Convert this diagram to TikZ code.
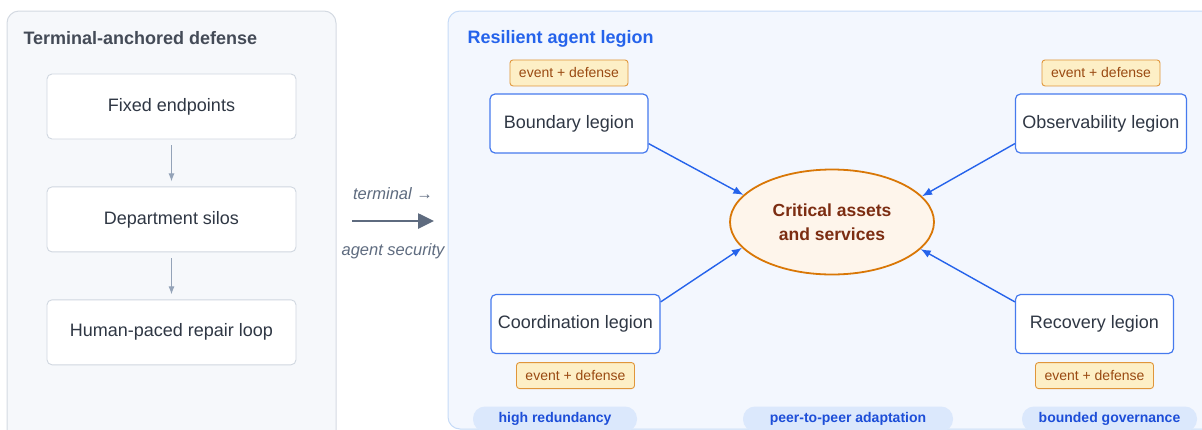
\documentclass[tikz,border=0pt]{standalone}
\usepackage{fontspec}
\setmainfont{Liberation Sans}
\usepackage{xcolor}
\usetikzlibrary{shapes.geometric,arrows.meta,positioning}

\definecolor{leftfill}{HTML}{F6F8FB}
\definecolor{leftline}{HTML}{D4DAE2}
\definecolor{stepline}{HTML}{D0D7E0}
\definecolor{inktext}{HTML}{2F3744}
\definecolor{greyarrow}{HTML}{94A3B8}
\definecolor{rightfill}{HTML}{F3F7FE}
\definecolor{rightline}{HTML}{C6DBF7}
\definecolor{legionblue}{HTML}{2563EB}
\definecolor{tagfill}{HTML}{FDEFC6}
\definecolor{tagline}{HTML}{E0963A}
\definecolor{tagtext}{HTML}{9A4A12}
\definecolor{corefill}{HTML}{FEF5EB}
\definecolor{coreline}{HTML}{D97706}
\definecolor{coretext}{HTML}{7C2D12}
\definecolor{pillfill}{HTML}{DBE8FC}
\definecolor{pilltext}{HTML}{1D4ED8}
\definecolor{shiftgrey}{HTML}{5E6B7F}

\begin{document}
\begin{tikzpicture}[
    x=1pt, y=-1pt,
    node distance=47pt,
    panel/.style={rounded corners=12pt, line width=1pt},
    stepbox/.style={draw=stepline, fill=white, rectangle, rounded corners=5pt, line width=0.9pt,
        minimum width=249pt, minimum height=65pt, text=inktext, font=\fontsize{18}{21}\selectfont},
    legion/.style={draw=legionblue!85, fill=white, rectangle, rounded corners=5pt, line width=1.2pt,
        minimum width=158pt, minimum height=59pt, inner xsep=7pt, text=inktext, font=\fontsize{18}{21}\selectfont},
    tag/.style={draw=tagline, fill=tagfill, rectangle, rounded corners=3pt, line width=0.9pt,
        minimum height=26pt, inner xsep=9pt, text=tagtext, font=\fontsize{14}{16}\selectfont},
    pill/.style={fill=pillfill, rectangle, rounded corners=12pt, minimum height=25pt,
        text=pilltext, font=\bfseries\fontsize{14}{16}\selectfont},
    flow/.style={-{Latex[length=8pt,width=6pt]}, line width=1pt, greyarrow, shorten <=6pt, shorten >=5pt},
    feed/.style={-{Latex[length=10pt,width=8pt]}, line width=1.4pt, legionblue}
]
    \useasboundingbox (0,0) rectangle (1202,429);
    \clip (0,0) rectangle (1202,429);

    % panels
    \draw[panel, fill=leftfill, draw=leftline] (7,11) rectangle (336,460);
    \draw[panel, fill=rightfill, draw=rightline] (448,11) rectangle (1240,429);

    \node[anchor=west, text=inktext!90, font=\bfseries\fontsize{18}{21}\selectfont] (lefttitle) at (20,38) {Terminal-anchored defense};
    \node[anchor=west, text=legionblue, font=\bfseries\fontsize{18}{21}\selectfont] (righttitle) at (464,39) {Resilient agent legion};

    % terminal column
    \node[stepbox] (fixed) at (171.5,106.5) {Fixed endpoints};
    \node[stepbox, below=of fixed] (silos) {Department silos};
    \node[stepbox, below=of silos] (repair) {Human-paced repair loop};

    \draw[flow] (fixed) -- (silos);
    \draw[flow] (silos) -- (repair);

    % shift
    \coordinate (shiftL) at (352,221);
    \coordinate (shiftR) at (434,221);
    \draw[-{Triangle[length=16pt,width=15pt]}, line width=2.6pt, shiftgrey] (shiftL) --
        node[above=17pt, text=shiftgrey, font=\itshape\fontsize{16.5}{19}\selectfont] (shifttop) {terminal →}
        node[below=18pt, text=shiftgrey, font=\itshape\fontsize{16.5}{19}\selectfont] (shiftbot) {agent security} (shiftR);

    % legion
    \node[ellipse, draw=coreline, fill=corefill, line width=1.8pt, minimum width=204pt, minimum height=105pt,
        inner sep=0pt, align=center, text=coretext, font=\bfseries\fontsize{17.5}{24}\selectfont] (core) at (832,222)
        {Critical assets\\and services};

    \node[legion] (boundary) at (569,123.5) {Boundary legion};
    \node[legion] (observe) at (1101,123.5) {Observability legion};
    \node[legion] (coord) at (575.5,324) {Coordination legion};
    \node[legion] (recover) at (1094.5,324) {Recovery legion};

    \node[tag, above=7pt of boundary] (tagB) {event + defense};
    \node[tag, above=7pt of observe] (tagO) {event + defense};
    \node[tag, below=8pt of coord] (tagC) {event + defense};
    \node[tag, below=8pt of recover] (tagR) {event + defense};

    \draw[feed] ([yshift=10pt]boundary.south east) -- (core.163.5);
    \draw[feed] ([yshift=10pt]observe.south west) -- (core.16.5);
    \draw[feed] ([yshift=-8pt]coord.north east) -- (core.196.5);
    \draw[feed] ([yshift=-8pt]recover.north west) -- (core.343.5);

    % traits
    \node[pill, minimum width=164pt] (redund) at (555,419) {high redundancy};
    \node[pill, minimum width=210pt] (peer) at (848,419) {peer-to-peer adaptation};
    \node[pill, minimum width=175pt] (govern) at (1109.5,419) {bounded governance};
\end{tikzpicture}
\end{document}
